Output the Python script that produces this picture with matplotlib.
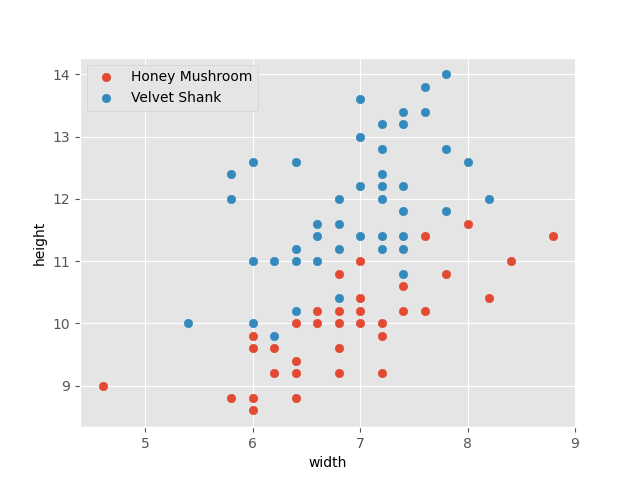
import matplotlib
matplotlib.use('Agg')
import matplotlib.pyplot as plt
from matplotlib import style

style.use('ggplot')

# Honey Mushroom measurements
honey_width = [4.6, 5.8, 6.0, 6.0, 6.0, 6.0, 6.2, 6.2, 6.4, 6.4, 6.4, 6.4,
               6.6, 6.6, 6.8, 6.8, 6.8, 6.8, 6.8, 7.0, 7.0, 7.0, 7.0,
               7.2, 7.2, 7.2, 7.4, 7.4, 7.6, 7.6, 7.8, 8.0, 8.2, 8.4, 8.8]
honey_height = [9.0, 8.8, 8.6, 8.8, 9.6, 9.8, 9.2, 9.6, 8.8, 9.2, 9.4, 10.0,
                10.0, 10.2, 9.2, 9.6, 10.0, 10.2, 10.8, 10.0, 10.2, 10.4, 11.0,
                9.2, 9.8, 10.0, 10.2, 10.6, 10.2, 11.4, 10.8, 11.6, 10.4, 11.0, 11.4]

# Velvet Shank measurements
velvet_width = [5.4, 5.8, 5.8, 6.0, 6.0, 6.0, 6.2, 6.2, 6.4, 6.4, 6.4, 6.4,
                6.6, 6.6, 6.6, 6.8, 6.8, 6.8, 6.8, 7.0, 7.0, 7.0, 7.0,
                7.2, 7.2, 7.2, 7.2, 7.2, 7.2, 7.2,
                7.4, 7.4, 7.4, 7.4, 7.4, 7.4, 7.4,
                7.6, 7.6, 7.8, 7.8, 7.8, 8.0, 8.2]
velvet_height = [10.0, 12.0, 12.4, 10.0, 11.0, 12.6, 9.8, 11.0, 10.2, 11.0, 11.2, 12.6,
                 11.0, 11.4, 11.6, 10.4, 11.2, 11.6, 12.0, 11.4, 12.2, 13.0, 13.6,
                 11.2, 11.4, 12.0, 12.2, 12.4, 12.8, 13.2,
                 10.8, 11.2, 11.4, 11.8, 12.2, 13.2, 13.4,
                 13.4, 13.8, 11.8, 12.8, 14.0, 12.6, 12.0]

fig, ax = plt.subplots(figsize=(6.4, 4.8), dpi=100)
ax.scatter(honey_width, honey_height, label='Honey Mushroom')
ax.scatter(velvet_width, velvet_height, label='Velvet Shank')
ax.set_xlabel('width', fontsize=10, color='black')
ax.set_ylabel('height', fontsize=10, color='black')
ax.legend(loc='upper left')

fig.savefig('out.png')
